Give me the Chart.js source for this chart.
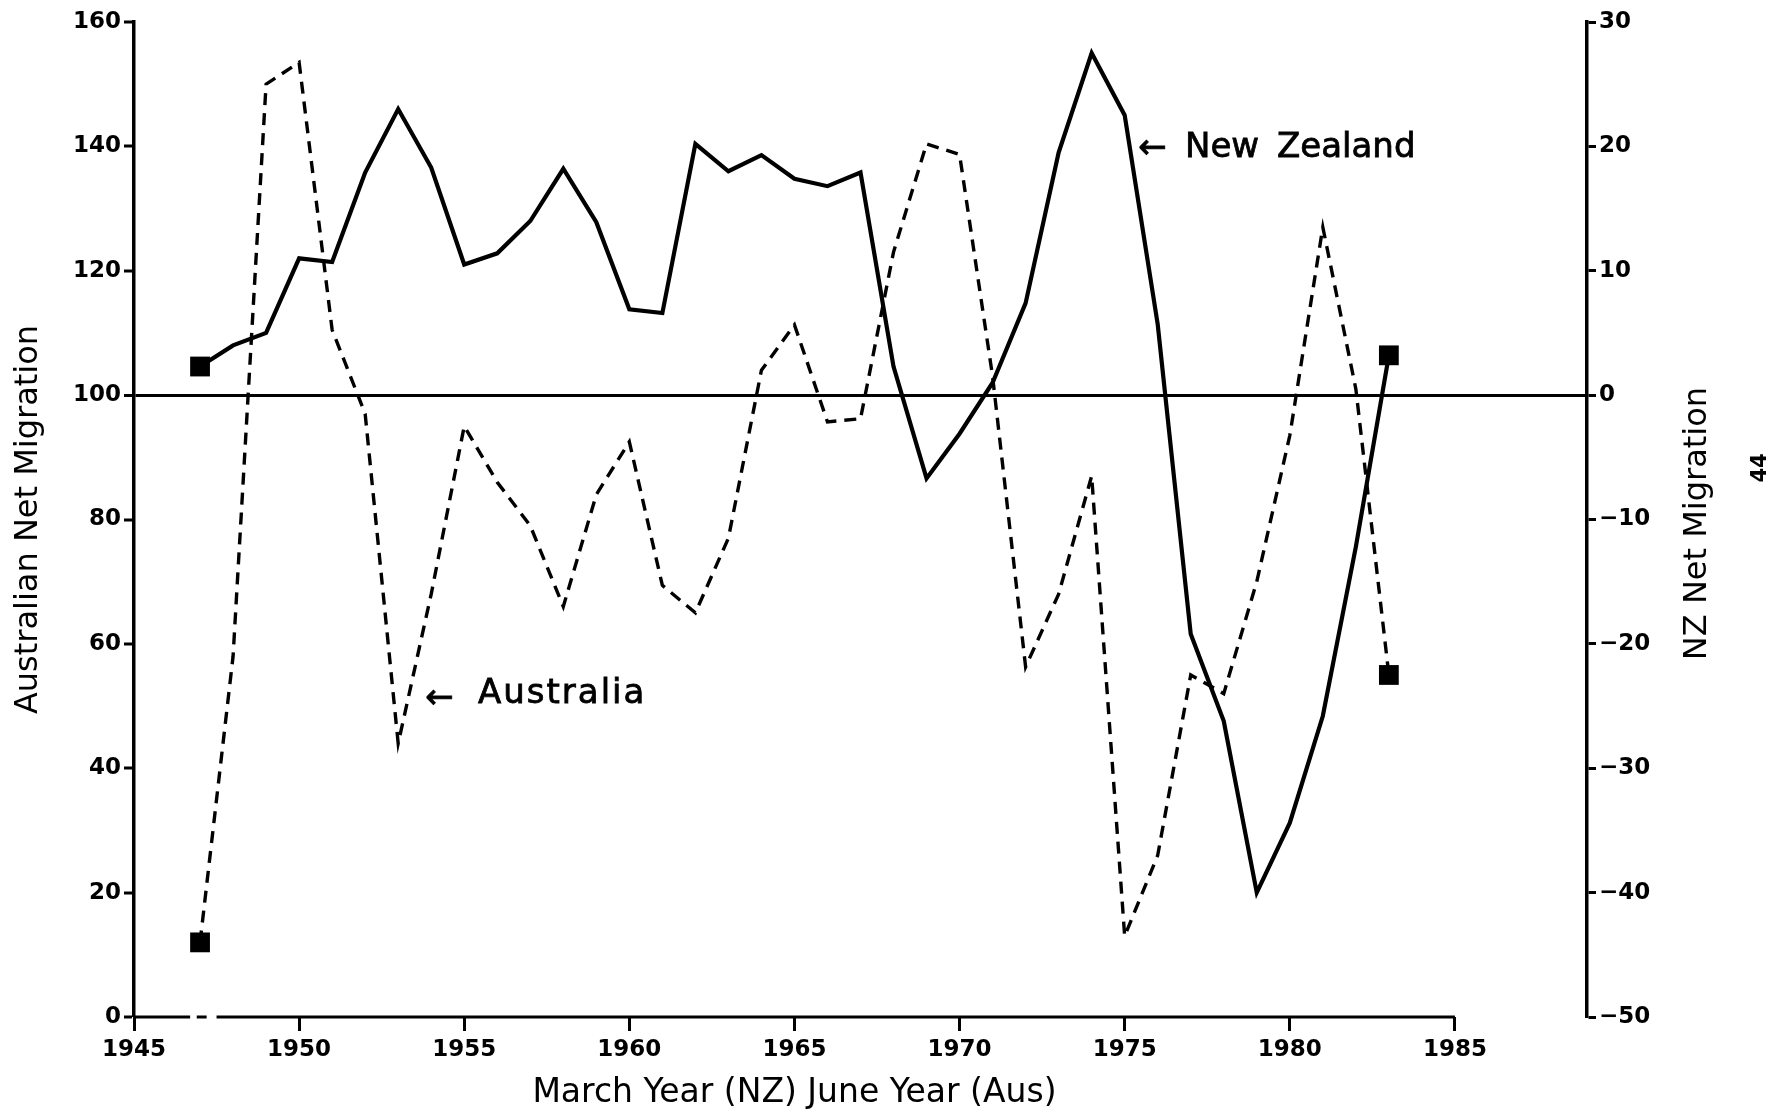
<!DOCTYPE html>
<html>
<head>
<meta charset="utf-8">
<script src="https://cdn.jsdelivr.net/npm/chart.js@4.4.1/dist/chart.umd.min.js"></script>
<style>
html,body{margin:0;padding:0;background:#fff;}
canvas{display:block;}
</style>
</head>
<body>
<canvas id="c" width="1777" height="1112"></canvas>
<script>
// ---- data ----
const years = [1947,1948,1949,1950,1951,1952,1953,1954,1955,1956,1957,1958,1959,1960,1961,1962,1963,1964,1965,1966,1967,1968,1969,1970,1971,1972,1973,1974,1975,1976,1977,1978,1979,1980,1981,1982,1983];
// New Zealand net migration (right axis, thousands)
const nzNet = [2.3,4.0,5.0,11.0,10.7,17.9,23.0,18.3,10.5,11.4,14.0,18.2,13.9,6.9,6.6,20.2,18.0,19.3,17.4,16.8,17.9,2.3,-6.7,-3.1,1.0,7.4,19.5,27.5,22.5,5.7,-19.2,-26.2,-40.0,-34.4,-25.8,-12.2,3.2];
// Australian net migration (left axis, thousands)
const ausNet = [12,58,150,153.5,110.5,97,44,68,95,86,79,66,84,92.5,69.4,65,77,104,111.3,95.7,96.2,123,140.4,138.7,103,56.3,68,87,13,26,55,52,70,93.5,127,101,55];
// tick values
const yearTicks = [1945,1950,1955,1960,1965,1970,1975,1980,1985];
const ausTicks = [0,20,40,60,80,100,120,140,160];
const nzTicks = [-50,-40,-30,-20,-10,0,10,20,30];

const BLACK = '#000';
const tickFont = {family: 'DejaVu Sans', weight: 'bold', size: 23};
const lastIdx = years.length - 1;
const endSquares = ctx => (ctx.dataIndex === 0 || ctx.dataIndex === lastIdx) ? 14 : 0;

const extras = {
  id: 'extras',
  beforeDatasetsDraw(chart) {
    const {ctx, scales: {x, y}} = chart;
    const yb = y.getPixelForValue(0);
    ctx.save();
    ctx.strokeStyle = BLACK;
    ctx.lineWidth = 3;
    [[1945, 1946.7], [1946.9, 1947.2], [1947.5, 1985]].forEach(([a, b]) => {
      ctx.beginPath();
      ctx.moveTo(x.getPixelForValue(a), yb);
      ctx.lineTo(x.getPixelForValue(b), yb);
      ctx.stroke();
    });
    ctx.restore();
  },
  afterDraw(chart) {
    const {ctx, chartArea, scales: {x}} = chart;
    ctx.save();
    ctx.fillStyle = BLACK;
    // x-axis title centred under the 1945-1985 range
    ctx.font = '33px "DejaVu Sans"';
    ctx.textAlign = 'center';
    ctx.textBaseline = 'middle';
    ctx.fillText('March Year (NZ) June Year (Aus)',
      (x.getPixelForValue(1945) + x.getPixelForValue(1985)) / 2, 1093);
    // right axis title (reads bottom to top)
    ctx.font = '32px "DejaVu Sans"';
    ctx.save();
    ctx.translate(1698, (chartArea.top + chartArea.bottom) / 2 + 4);
    ctx.rotate(-Math.PI / 2);
    ctx.fillText('NZ Net Migration', 0, 0);
    ctx.restore();
    // page number
    ctx.save();
    ctx.font = 'bold 21px "DejaVu Sans"';
    ctx.translate(1761, 468);
    ctx.rotate(-Math.PI / 2);
    ctx.fillText('44', 0, 0);
    ctx.restore();
    // hand-written labels
    ctx.textAlign = 'left';
    ctx.textBaseline = 'alphabetic';
    ctx.font = '34px "DejaVu Sans"';
    ctx.lineWidth = 0.8;
    ctx.strokeStyle = BLACK;
    const put = (t, px, py) => { ctx.fillText(t, px, py); ctx.strokeText(t, px, py); };
    put('\u2190', 1138, 158);
    put('New', 1185, 157);
    put('Zealand', 1277, 157);
    put('\u2190', 425, 708);
    ctx.letterSpacing = '2px';
    put('Australia', 478, 703);
    ctx.restore();
  }
};

new Chart(document.getElementById('c'), {
  type: 'line',
  data: {
    datasets: [
      {
        label: 'New Zealand',
        data: years.map((yr, i) => ({x: yr, y: nzNet[i]})),
        yAxisID: 'y2',
        borderColor: BLACK,
        borderWidth: 4.2,
        tension: 0,
        fill: false,
        pointStyle: 'rect',
        pointRadius: endSquares,
        pointBackgroundColor: BLACK,
        pointBorderWidth: 0
      },
      {
        label: 'Australia',
        data: years.map((yr, i) => ({x: yr, y: ausNet[i]})),
        yAxisID: 'y',
        borderColor: BLACK,
        borderWidth: 3.4,
        borderDash: [12, 8],
        tension: 0,
        fill: false,
        pointStyle: 'rect',
        pointRadius: endSquares,
        pointBackgroundColor: BLACK,
        pointBorderWidth: 0
      }
    ]
  },
  options: {
    responsive: false,
    animation: false,
    events: [],
    layout: {padding: {top: 22, left: 0, right: 0, bottom: 0}},
    plugins: {legend: {display: false}, tooltip: {enabled: false}},
    scales: {
      x: {
        type: 'linear', min: 1945, max: 1989,
        afterBuildTicks: s => { s.ticks = yearTicks.map(v => ({value: v})); },
        afterFit: s => { s.height = 95; },
        border: {display: false},
        grid: {drawOnChartArea: false, tickLength: 14, tickColor: BLACK, tickWidth: 3},
        ticks: {font: tickFont, color: BLACK, padding: 5, maxRotation: 0, autoSkip: false, callback: v => String(v)}
      },
      y: {
        position: 'left', min: 0, max: 160,
        afterBuildTicks: s => { s.ticks = ausTicks.map(v => ({value: v})); },
        afterFit: s => { s.width = 134; },
        border: {display: true, color: BLACK, width: 3.5},
        grid: {
          drawOnChartArea: true,
          color: c => (c.tick && c.tick.value === 100) ? BLACK : 'rgba(0,0,0,0)',
          lineWidth: c => (c.tick && c.tick.value === 100) ? 3 : 0,
          tickLength: 10, tickColor: BLACK, tickWidth: 3
        },
        ticks: {font: tickFont, color: BLACK, padding: 3, callback: v => String(v)},
        title: {display: true, text: 'Australian Net Migration', color: BLACK,
          font: {family: 'DejaVu Sans', size: 32}, padding: {top: 9, bottom: 0}}
      },
      y2: {
        position: 'right', min: -50, max: 30,
        afterBuildTicks: s => { s.ticks = nzTicks.map(v => ({value: v})); },
        afterFit: s => { s.width = 190; },
        border: {display: true, color: BLACK, width: 3.5},
        grid: {drawOnChartArea: false, tickLength: 9, tickColor: BLACK, tickWidth: 3},
        ticks: {font: tickFont, color: BLACK, padding: 3,
          callback: v => v < 0 ? '\u2212' + Math.abs(v) : String(v)}
      }
    }
  },
  plugins: [extras]
});
</script>
</body>
</html>
